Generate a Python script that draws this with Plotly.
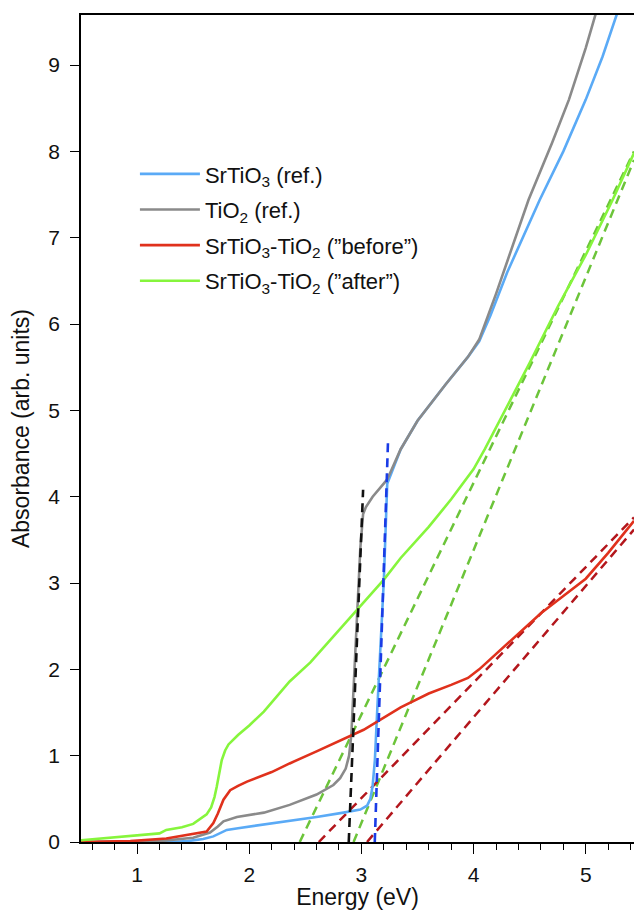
import plotly.graph_objects as go

# ---- data ----
e_sto = [0.5, 1.3, 1.45, 1.59, 1.68, 1.75, 1.80, 1.9, 2.13, 2.36, 2.6, 2.84, 2.99, 3.05, 3.08, 3.10,
         3.12, 3.14, 3.17, 3.20, 3.23, 3.35, 3.5, 3.75, 3.95, 4.05, 4.15, 4.3, 4.59, 4.8, 5.0, 5.15, 5.28]
a_sto = [0.0, 0.0, 0.01, 0.035, 0.065, 0.11, 0.14, 0.16, 0.2, 0.24, 0.29, 0.34, 0.375, 0.42, 0.5, 0.65,
         0.95, 1.5, 2.3, 3.04, 4.15, 4.55, 4.88, 5.3, 5.62, 5.8, 6.1, 6.6, 7.44, 8.0, 8.6, 9.1, 9.6]

e_tio = [0.5, 1.2, 1.5, 1.65, 1.72, 1.77, 1.89, 2.13, 2.36, 2.6, 2.75, 2.81, 2.86, 2.89, 2.91, 2.93,
         2.95, 2.97, 2.99, 3.015, 3.04, 3.1, 3.23, 3.35, 3.5, 3.75, 3.95, 4.05, 4.2, 4.49, 4.7, 4.85,
         5.0, 5.09]
a_tio = [0.0, 0.01, 0.05, 0.11, 0.18, 0.24, 0.29, 0.34, 0.43, 0.55, 0.66, 0.74, 0.85, 1.0, 1.24, 1.8,
         2.4, 2.95, 3.4, 3.8, 3.88, 4.0, 4.2, 4.55, 4.88, 5.3, 5.62, 5.82, 6.35, 7.44, 8.1, 8.6,
         9.2, 9.6]

e_before = [0.5, 0.94, 1.26, 1.47, 1.62, 1.68, 1.72, 1.77, 1.83, 1.9, 1.98, 2.2, 2.36, 2.6, 2.91, 3.02,
            3.35, 3.6, 3.8, 3.95, 4.05, 4.3, 4.6, 4.8, 5.0, 5.2, 5.43]
a_before = [0.0, 0.01, 0.04, 0.085, 0.12, 0.22, 0.33, 0.49, 0.6, 0.65, 0.70, 0.81, 0.91, 1.05, 1.24, 1.30,
            1.56, 1.72, 1.82, 1.9, 2.0, 2.3, 2.65, 2.85, 3.05, 3.35, 3.72]

e_after = [0.5, 0.94, 1.2, 1.26, 1.4, 1.5, 1.62, 1.66, 1.69, 1.71, 1.735, 1.755, 1.785, 1.815, 1.9, 2.0,
           2.13, 2.36, 2.545, 2.75, 2.96, 3.2, 3.35, 3.6, 3.8, 4.0, 4.1, 4.3, 4.5, 4.75, 5.0, 5.24, 5.43]
a_after = [0.02, 0.065, 0.1, 0.14, 0.17, 0.21, 0.32, 0.4, 0.52, 0.64, 0.8, 0.95, 1.06, 1.13, 1.24, 1.35,
           1.51, 1.86, 2.08, 2.38, 2.69, 3.04, 3.29, 3.65, 3.97, 4.32, 4.55, 5.05, 5.55, 6.2, 6.8, 7.44, 7.98]

# tangent (band-gap extrapolation) lines: [start, end]
fit_tio_e = [2.887, 3.015]
fit_tio_a = [0.0, 4.08]
fit_sto_e = [3.119, 3.238]
fit_sto_a = [0.0, 4.68]
fit_after1_e = [2.45, 5.43]
fit_after1_a = [0.0, 8.0]
fit_after2_e = [2.93, 5.43]
fit_after2_a = [0.0, 7.9]
fit_before1_e = [2.62, 5.43]
fit_before1_a = [0.0, 3.76]
fit_before2_e = [3.05, 5.43]
fit_before2_a = [0.0, 3.62]

x_ticks = [1, 2, 3, 4, 5]
y_ticks = [0, 1, 2, 3, 4, 5, 6, 7, 8, 9]

FONT = "Liberation Sans, Arial, Helvetica, sans-serif"

fig = go.Figure()

dash = "9px,6px"
for ex, ay, col in [
    (fit_after1_e, fit_after1_a, "#6cc43a"),
    (fit_after2_e, fit_after2_a, "#6cc43a"),
    (fit_before1_e, fit_before1_a, "#b3161c"),
    (fit_before2_e, fit_before2_a, "#b3161c"),
]:
    fig.add_trace(go.Scatter(x=ex, y=ay, mode="lines", showlegend=False, hoverinfo="skip",
                             line=dict(color=col, width=2.5, dash=dash)))

series = [
    ("SrTiO<sub>3</sub> (ref.)", e_sto, a_sto, "#5aaaf6"),
    ("TiO<sub>2</sub> (ref.)", e_tio, a_tio, "#8a8a8a"),
    ("SrTiO<sub>3</sub>-TiO<sub>2</sub> (\u201dbefore\u201d)", e_before, a_before, "#e0311c"),
    ("SrTiO<sub>3</sub>-TiO<sub>2</sub> (\u201dafter\u201d)", e_after, a_after, "#86f53c"),
]
for i, (name, ex, ay, col) in enumerate(series):
    fig.add_trace(go.Scatter(x=ex, y=ay, mode="lines", name=name, legendgroup=f"g{i}",
                             line=dict(color=col, width=2.6)))

for ex, ay, col in [
    (fit_tio_e, fit_tio_a, "#111111"),
    (fit_sto_e, fit_sto_a, "#1a3ce6"),
]:
    fig.add_trace(go.Scatter(x=ex, y=ay, mode="lines", showlegend=False, hoverinfo="skip",
                             line=dict(color=col, width=2.6, dash=dash)))

fig.update_layout(
    width=634, height=910,
    margin=dict(l=81, r=0, t=15, b=68),
    paper_bgcolor="white", plot_bgcolor="white",
    font=dict(family=FONT, size=21, color="#111111"),
    legend=dict(x=0.0975, y=0.833, xanchor="left", yanchor="top", itemwidth=60,
                bgcolor="rgba(0,0,0,0)", font=dict(size=22), tracegroupgap=4),
    xaxis=dict(range=[0.5, 5.43], tickvals=x_ticks, ticks="outside", ticklen=10, tickwidth=1.2,
               tickcolor="black", showline=True, linecolor="black", linewidth=1.5, mirror=True,
               showgrid=False, zeroline=False, ticklabelstandoff=3,
               minor=dict(dtick=0.2, ticks="outside", ticklen=6, tickwidth=1.2, tickcolor="black"),
               title=dict(text="Energy (eV)", font=dict(size=23), standoff=6)),
    yaxis=dict(range=[0, 9.58], tickvals=y_ticks, ticks="outside", ticklen=9, tickwidth=1.2,
               tickcolor="black", showline=True, linecolor="black", linewidth=1.5,
               showgrid=False, zeroline=False, ticklabelstandoff=6,
               title=dict(text="Absorbance (arb. units)", font=dict(size=23), standoff=12)),
)

fig.write_html("out.html")
